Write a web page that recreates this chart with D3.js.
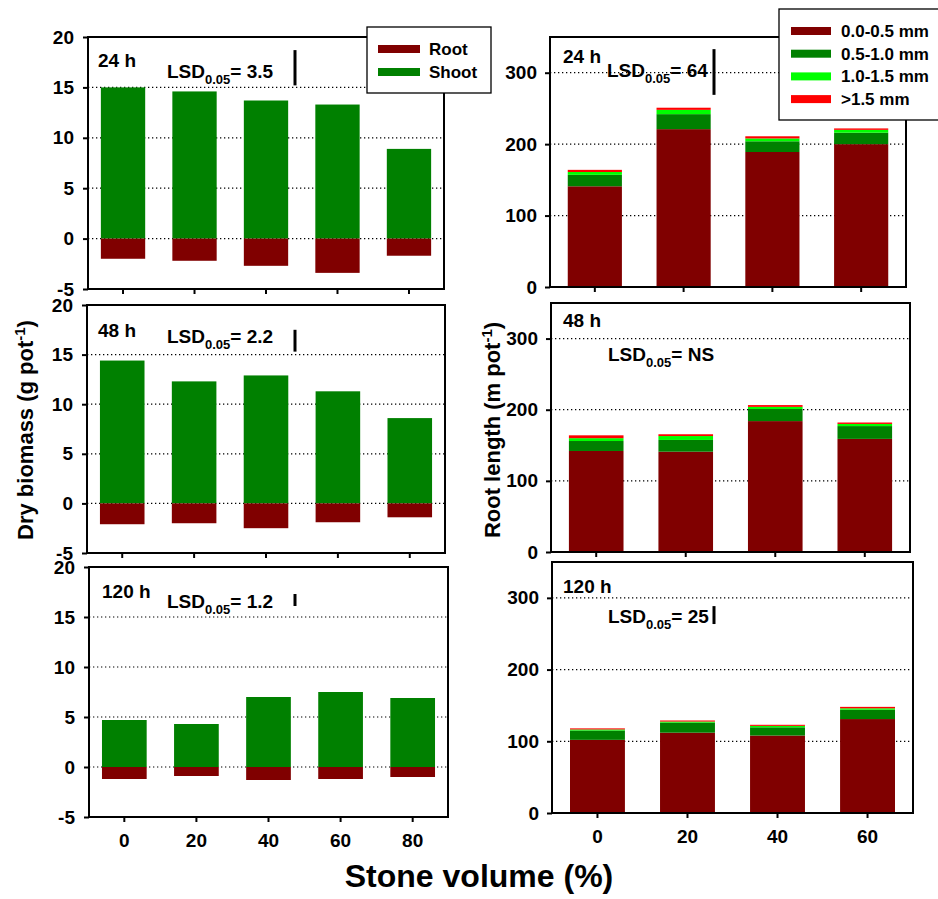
<!DOCTYPE html>
<html>
<head>
<meta charset="utf-8">
<script src="https://cdn.jsdelivr.net/npm/d3@7"></script>
<style>
  html, body { margin: 0; padding: 0; background: #fff; }
  svg { display: block; font-family: "Liberation Sans", Arial, sans-serif; font-weight: bold; }
</style>
</head>
<body>
<svg id="chart" width="938" height="899"></svg>
<script>
// Stone volume treatments (%)
const stoneBiomass = ["0", "20", "40", "60", "80"];
const stoneLength = ["0", "20", "40", "60"];
const sampling = ["24 h", "48 h", "120 h"];

// Dry biomass (g pot-1); root drawn downward from zero
const shoot24 = [15.0, 14.6, 13.7, 13.3, 8.9];
const root24 = [2.0, 2.2, 2.7, 3.4, 1.7];
const shoot48 = [14.4, 12.3, 12.9, 11.3, 8.6];
const root48 = [2.1, 2.0, 2.5, 1.9, 1.4];
const shoot120 = [4.7, 4.3, 7.0, 7.5, 6.9];
const root120 = [1.2, 0.9, 1.3, 1.2, 1.0];

// Root length (m pot-1) by diameter class
const diamClasses = ["0.0-0.5 mm", "0.5-1.0 mm", "1.0-1.5 mm", ">1.5 mm"];
const len24 = { "0.0-0.5 mm": [141, 221, 189, 200], "0.5-1.0 mm": [16, 21, 15, 16], "1.0-1.5 mm": [4, 6, 4, 4], ">1.5 mm": [3, 3, 3, 2] };
const len48 = { "0.0-0.5 mm": [142, 141, 184, 159], "0.5-1.0 mm": [14, 16.5, 17, 18], "1.0-1.5 mm": [4, 5.5, 3, 3], ">1.5 mm": [4, 2.5, 2.5, 2] };
const len120 = { "0.0-0.5 mm": [102, 112, 108, 131], "0.5-1.0 mm": [13, 14, 11.5, 13], "1.0-1.5 mm": [1.5, 1.5, 2, 2], ">1.5 mm": [1.5, 1.5, 1.5, 2] };

// LSD (0.05) values; null = not significant
const lsdBiomass = [3.5, 2.2, 1.2];
const lsdLength = [64, null, 25];

// Axis ticks
const biomassTicks = [-5, 0, 5, 10, 15, 20];
const biomassGrid = [0, 5, 10, 15];
const lengthTicks = [0, 100, 200, 300];
const lengthGrid = [100, 200, 300];

const partColors = { Root: "#800000", Shoot: "#008000" };
const diamColors = { "0.0-0.5 mm": "#800000", "0.5-1.0 mm": "#008000", "1.0-1.5 mm": "#00ff00", ">1.5 mm": "#ff0000" };

const svg = d3.select("#chart");

const leftBoxes = [
  { x0: 88, x1: 444, y0: 37, y1: 289 },
  { x0: 87, x1: 445, y0: 305, y1: 553 },
  { x0: 89, x1: 448, y0: 567, y1: 817 }
];
const rightBoxes = [
  { x0: 550, x1: 906, y0: 37, y1: 287 },
  { x0: 551, x1: 910, y0: 303, y1: 552 },
  { x0: 552, x1: 913, y0: 562, y1: 813 }
];

const shootSets = [shoot24, shoot48, shoot120];
const rootSets = [root24, root48, root120];
const lengthSets = [len24, len48, len120];

// LSD bar centre (value on the y scale) per panel
const lsdBiomassCentre = [16.95, 16.4, 16.7];
const lsdLengthCentre = [301, 0, 276];

function styleAxis(g, size) {
  g.select(".domain").remove();
  g.selectAll(".tick line").attr("stroke", "#000").attr("stroke-width", 2);
  g.selectAll(".tick text").attr("font-size", size).attr("font-weight", "bold")
    .attr("fill", "#000").attr("font-family", "Liberation Sans, Arial, sans-serif");
}

function lsdText(g, x, y, valueText) {
  const t = g.append("text").attr("x", x).attr("y", y).attr("font-size", 19).attr("fill", "#000");
  t.append("tspan").text("LSD");
  t.append("tspan").attr("font-size", 13).attr("dy", 6).text("0.05");
  t.append("tspan").attr("dy", -6).text("= " + valueText);
}

// ---- Dry biomass panels ----
leftBoxes.forEach((b, i) => {
  const g = svg.append("g");
  const x = d3.scaleBand().domain(stoneBiomass).range([b.x0, b.x1]).paddingInner(0.38).paddingOuter(0.18);
  const y = d3.scaleLinear().domain([-5, 20]).range([b.y1, b.y0]);

  g.selectAll("line.grid").data(biomassGrid).join("line")
    .attr("x1", b.x0).attr("x2", b.x1).attr("y1", d => y(d)).attr("y2", d => y(d))
    .attr("stroke", "#000").attr("stroke-width", 1.2).attr("stroke-dasharray", "1.3,2.7");

  g.selectAll("rect.shoot").data(shootSets[i]).join("rect")
    .attr("x", (d, j) => x(stoneBiomass[j])).attr("width", x.bandwidth())
    .attr("y", d => y(d)).attr("height", d => y(0) - y(d)).attr("fill", partColors.Shoot);
  g.selectAll("rect.root").data(rootSets[i]).join("rect")
    .attr("x", (d, j) => x(stoneBiomass[j])).attr("width", x.bandwidth())
    .attr("y", y(0)).attr("height", d => y(-d) - y(0)).attr("fill", partColors.Root);

  g.append("rect").attr("x", b.x0).attr("y", b.y0).attr("width", b.x1 - b.x0).attr("height", b.y1 - b.y0)
    .attr("fill", "none").attr("stroke", "#000").attr("stroke-width", 2);

  const ya = g.append("g").attr("transform", `translate(${b.x0},0)`)
    .call(d3.axisLeft(y).tickValues(biomassTicks).tickFormat(d => String(d)).tickSize(5).tickPadding(9));
  styleAxis(ya, 19);

  const xa = g.append("g").attr("transform", `translate(0,${b.y1})`)
    .call(d3.axisBottom(x).tickSize(5).tickPadding(12).tickFormat(i === 2 ? (d => d) : () => ""));
  styleAxis(xa, 19);

  g.append("text").attr("x", i === 2 ? 102 : 98).attr("y", [67, 337, 598][i])
    .attr("font-size", 19).text(sampling[i]);
  lsdText(g, 167, [78, 343, 608][i], String(lsdBiomass[i]));
  const c = lsdBiomassCentre[i], h = lsdBiomass[i] / 2;
  g.append("line").attr("x1", 295).attr("x2", 295)
    .attr("y1", y(c + h)).attr("y2", y(c - h)).attr("stroke", "#000").attr("stroke-width", 3);
});

// ---- Root length panels ----
lengthSets.forEach((set, i) => {
  const b = rightBoxes[i];
  const g = svg.append("g");
  const x = d3.scaleBand().domain(stoneLength).range([b.x0, b.x1]).paddingInner(0.39).paddingOuter(0.2);
  const y = d3.scaleLinear().domain([0, 350]).range([b.y1, b.y0]);

  g.selectAll("line.grid").data(lengthGrid).join("line")
    .attr("x1", b.x0).attr("x2", b.x1).attr("y1", d => y(d)).attr("y2", d => y(d))
    .attr("stroke", "#000").attr("stroke-width", 1.2).attr("stroke-dasharray", "1.3,2.7");

  const rows = stoneLength.map((s, j) => {
    const r = { stone: s };
    diamClasses.forEach(k => { r[k] = set[k][j]; });
    return r;
  });
  const stacked = d3.stack().keys(diamClasses)(rows);
  g.selectAll("g.layer").data(stacked).join("g")
    .attr("fill", d => diamColors[d.key])
    .selectAll("rect").data(d => d).join("rect")
    .attr("x", d => x(d.data.stone)).attr("width", x.bandwidth())
    .attr("y", d => y(d[1])).attr("height", d => y(d[0]) - y(d[1]));

  g.append("rect").attr("x", b.x0).attr("y", b.y0).attr("width", b.x1 - b.x0).attr("height", b.y1 - b.y0)
    .attr("fill", "none").attr("stroke", "#000").attr("stroke-width", 2);

  const ya = g.append("g").attr("transform", `translate(${b.x0},0)`)
    .call(d3.axisLeft(y).tickValues(lengthTicks).tickFormat(d => String(d)).tickSize(5).tickPadding(8));
  styleAxis(ya, 19);

  const xa = g.append("g").attr("transform", `translate(0,${b.y1})`)
    .call(d3.axisBottom(x).tickSize(5).tickPadding(12).tickFormat(i === 2 ? (d => d) : () => ""));
  styleAxis(xa, 19);

  g.append("text").attr("x", 563).attr("y", [63, 327, 593][i]).attr("font-size", 19).text(sampling[i]);
  const v = lsdLength[i];
  lsdText(g, [607, 608, 608][i], [77, 361, 623][i], v === null ? "NS" : String(v));
  if (v !== null) {
    const c = lsdLengthCentre[i];
    g.append("line").attr("x1", 714).attr("x2", 714)
      .attr("y1", y(c + v / 2)).attr("y2", y(c - v / 2)).attr("stroke", "#000").attr("stroke-width", 3);
  }
});

// ---- Axis titles ----
function yTitle(cx, cy, main, unit) {
  const t = svg.append("text").attr("transform", `translate(${cx},${cy}) rotate(-90)`)
    .attr("text-anchor", "middle").attr("font-size", 22).attr("fill", "#000");
  t.append("tspan").text(main + " (" + unit + " pot");
  t.append("tspan").attr("font-size", 15).attr("dy", -8).text("-1");
  t.append("tspan").attr("dy", 8).text(")");
}
yTitle(33, 430, "Dry biomass", "g");
yTitle(500, 430, "Root length", "m");

svg.append("text").attr("x", 479).attr("y", 887).attr("text-anchor", "middle")
  .attr("font-size", 32).text("Stone volume (%)");

// ---- Legends ----
const legL = svg.append("g");
legL.append("rect").attr("x", 367).attr("y", 27).attr("width", 124).attr("height", 66)
  .attr("fill", "#fff").attr("stroke", "#000").attr("stroke-width", 1.3);
["Root", "Shoot"].forEach((k, j) => {
  const cy = 49 + j * 23;
  legL.append("rect").attr("x", 378).attr("y", cy - 4).attr("width", 42).attr("height", 8).attr("fill", partColors[k]);
  legL.append("text").attr("x", 429).attr("y", cy + 6).attr("font-size", 17).text(k);
});

const legR = svg.append("g");
legR.append("rect").attr("x", 779).attr("y", 9).attr("width", 170).attr("height", 111)
  .attr("fill", "#fff").attr("stroke", "#000").attr("stroke-width", 1.3);
diamClasses.forEach((k, j) => {
  const cy = 31 + j * 22.7;
  legR.append("rect").attr("x", 791).attr("y", cy - 4).attr("width", 40).attr("height", 8).attr("fill", diamColors[k]);
  legR.append("text").attr("x", 841).attr("y", cy + 6).attr("font-size", 17).text(k);
});
</script>
</body>
</html>
